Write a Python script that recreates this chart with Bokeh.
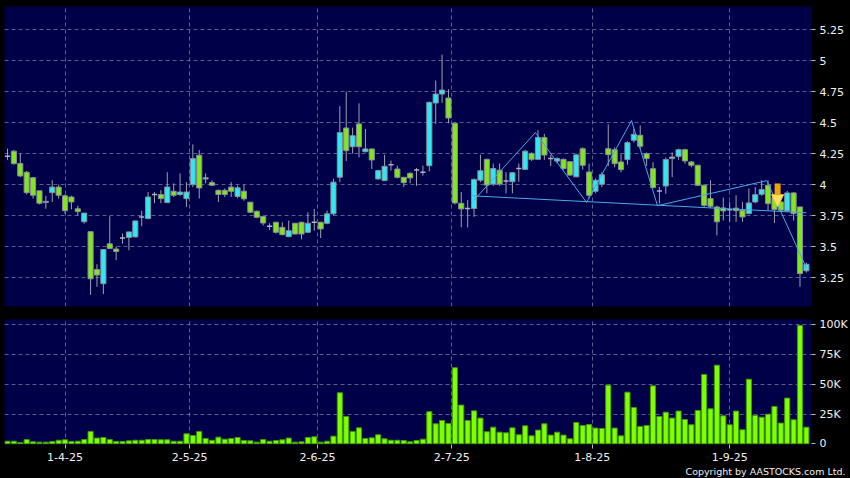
from bokeh.plotting import figure
from bokeh.layouts import column
from bokeh.models import (ColumnDataSource, FixedTicker, Range1d, Arrow,
                          NormalHead, Title)
from bokeh.embed import file_html
from bokeh.resources import INLINE

# ---------------- data ----------------
opens = [
    4.23, 4.27, 4.17, 4.10, 4.056, 3.95, 3.855, 3.935, 3.98, 3.91,
    3.90, 3.805, 3.70, 3.62, 3.315, 3.20, 3.522, 3.48, 3.57, 3.573,
    3.578, 3.739, 3.726, 3.92, 3.92, 3.855, 3.946, 3.92, 3.887, 4.0,
    4.237, 4.045, 4.016, 3.954, 3.954, 3.98, 3.904, 3.947, 3.858, 3.785,
    3.742, 3.664, 3.696, 3.655, 3.58, 3.688, 3.696, 3.615, 3.696, 3.696,
    3.688, 3.764, 4.06, 4.457, 4.306, 4.49, 4.266, 4.288, 4.046, 4.032,
    4.16, 4.126, 4.059, 4.091, 4.118, 4.10, 4.153, 4.659, 4.731, 4.699,
    4.495, 3.849, 3.807, 3.807, 4.036, 4.204, 4.004, 4.117, 4.03, 4.023,
    4.13, 4.123, 4.252, 4.204, 4.381, 4.21, 4.19, 4.204, 4.185, 4.063,
    4.29, 4.102, 3.946, 4.003, 4.29, 4.282, 4.183, 4.202, 4.358, 4.398,
    4.25, 4.129, 3.949, 3.989, 4.21, 4.228, 4.282, 4.183, 4.156, 3.995,
    3.887, 3.82, 3.812, 3.798, 3.81, 3.793, 3.766, 3.86, 3.922, 3.995,
    3.895, 3.86, 3.788, 3.933, 3.82, 3.304,
]
closes = [
    4.23, 4.17, 4.07, 3.935, 3.914, 3.85, 3.865, 3.98, 3.914, 3.79,
    3.86, 3.782, 3.77, 3.24, 3.27, 3.476, 3.484, 3.46, 3.57, 3.618,
    3.707, 3.739, 3.90, 3.92, 3.887, 3.981, 3.914, 3.94, 3.94, 4.21,
    3.973, 4.055, 3.995, 3.92, 3.92, 3.946, 3.974, 3.885, 3.777, 3.736,
    3.69, 3.664, 3.615, 3.596, 3.628, 3.601, 3.601, 3.688, 3.696, 3.642,
    3.764, 4.02, 4.42, 4.274, 4.395, 4.306, 4.288, 4.199, 4.113, 4.148,
    4.16, 4.059, 4.016, 4.054, 4.118, 4.10, 4.664, 4.731, 4.763, 4.538,
    3.852, 3.804, 3.807, 4.042, 4.112, 3.996, 4.13, 4.004, 4.03, 4.096,
    4.13, 4.27, 4.204, 4.381, 4.239, 4.21, 4.21, 4.13, 4.077, 4.24,
    4.156, 3.914, 4.035, 4.08, 4.242, 4.169, 4.121, 4.339, 4.406, 4.309,
    4.21, 3.976, 3.949, 4.202, 4.223, 4.282, 4.191, 4.156, 3.995, 3.833,
    3.825, 3.70, 3.788, 3.798, 3.79, 3.739, 3.852, 3.919, 3.96, 3.847,
    3.80, 3.793, 3.933, 3.766, 3.282, 3.357,
]
highs = [
    4.29, 4.28, 4.25, 4.11, 4.06, 3.95, 3.91, 4.035, 4.0, 3.92,
    3.91, 3.83, 3.772, 3.62, 3.357, 3.48, 3.745, 3.50, 3.605, 3.62,
    3.71, 3.788, 3.94, 3.94, 3.955, 4.10, 4.01, 4.09, 4.02, 4.325,
    4.28, 4.09, 4.035, 3.96, 3.97, 4.02, 3.993, 4.0, 3.86, 3.79,
    3.75, 3.688, 3.70, 3.696, 3.71, 3.69, 3.70, 3.777, 3.804, 3.70,
    3.79, 4.047, 4.634, 4.75, 4.46, 4.656, 4.45, 4.29, 4.12, 4.24,
    4.194, 4.153, 4.06, 4.10, 4.134, 4.153, 4.67, 4.84, 5.05, 4.77,
    4.50, 3.94, 3.875, 4.05, 4.24, 4.21, 4.17, 4.17, 4.10, 4.10,
    4.17, 4.28, 4.26, 4.44, 4.41, 4.24, 4.22, 4.21, 4.19, 4.25,
    4.30, 4.17, 4.05, 4.10, 4.487, 4.30, 4.25, 4.35, 4.45, 4.478,
    4.26, 4.18, 3.98, 4.22, 4.26, 4.29, 4.29, 4.19, 4.16, 4.0,
    4.035, 3.83, 3.895, 3.86, 3.914, 3.86, 3.968, 3.98, 4.035, 4.035,
    3.92, 3.87, 3.95, 3.94, 3.82, 3.37,
]
lows = [
    4.20, 4.16, 4.06, 3.92, 3.887, 3.84, 3.806, 3.86, 3.887, 3.766,
    3.80, 3.75, 3.685, 3.11, 3.175, 3.116, 3.48, 3.39, 3.524, 3.47,
    3.575, 3.664, 3.72, 3.85, 3.85, 3.85, 3.90, 3.91, 3.82, 3.98,
    3.887, 4.01, 3.99, 3.86, 3.90, 3.90, 3.89, 3.87, 3.77, 3.73,
    3.67, 3.634, 3.605, 3.59, 3.575, 3.60, 3.558, 3.61, 3.628, 3.569,
    3.68, 3.75, 4.02, 4.19, 4.25, 4.22, 4.26, 4.126, 4.04, 4.03,
    4.113, 4.05, 3.98, 4.011, 3.99, 4.073, 4.107, 4.49, 4.66, 4.495,
    3.84, 3.656, 3.654, 3.74, 4.02, 3.93, 3.99, 3.99, 3.93, 3.93,
    4.023, 4.12, 4.19, 4.20, 4.20, 4.15, 4.17, 4.12, 4.07, 4.06,
    4.12, 3.89, 3.93, 3.98, 4.15, 4.14, 4.10, 4.16, 4.34, 4.29,
    4.15, 3.97, 3.847, 3.925, 4.06, 4.2, 4.17, 4.14, 3.99, 3.82,
    3.81, 3.59, 3.71, 3.70, 3.70, 3.70, 3.76, 3.85, 3.91, 3.79,
    3.69, 3.78, 3.78, 3.71, 3.175, 3.29,
]
volume_k = [
    2.2, 2.2, 1.1, 3.6, 1.7, 1.4, 1.4, 2.0, 3.0, 3.4,
    2.0, 2.2, 3.6, 10.4, 4.8, 5.3, 3.6, 2.0, 2.0, 2.5,
    3.0, 3.0, 3.6, 3.6, 3.4, 3.4, 2.2, 2.2, 8.4, 7.0,
    10.4, 4.5, 3.0, 5.6, 3.9, 4.5, 5.3, 2.8, 2.5, 1.4,
    3.6, 2.2, 2.8, 3.4, 4.8, 1.4, 1.7, 5.3, 5.9, 1.4,
    2.2, 6.4, 42.9, 23.0, 10.4, 13.4, 4.5, 5.0, 7.6, 4.2,
    3.0, 3.0, 2.8, 1.7, 2.8, 3.9, 27.0,
    16.8, 19.6, 17.1, 63.9, 32.5, 19.6, 27.7, 21.6, 10.1, 14.0,
    9.8, 9.2, 13.4, 7.6, 15.1, 6.7, 11.5, 16.8, 7.3, 9.8,
    7.3, 4.2, 17.9, 15.4, 16.2, 13.2, 12.9, 49.3, 13.2, 6.7,
    43.4, 30.5, 14.6, 15.4, 48.7, 23.0, 26.6, 21.6, 27.5, 20.4,
    16.0, 28.0, 58.3, 29.4, 66.1, 23.5, 16.0, 27.5, 11.8, 54.3,
    23.8, 22.4, 24.9, 31.4, 17.4, 38.4, 20.2, 99.4, 14.0,
]

price_ticks = [3.25, 3.5, 3.75, 4.0, 4.25, 4.5, 4.75, 5.0, 5.25]
price_tick_labels = ["3.25", "3.5", "3.75", "4", "4.25", "4.5", "4.75", "5", "5.25"]
vol_ticks = [0, 25, 50, 75, 100]
vol_tick_labels = ["0", "25K", "50K", "75K", "100K"]
date_ticks = [9, 28.5, 48.5, 69.5, 91.5, 113]
date_tick_labels = ["1-4-25", "2-5-25", "2-6-25", "2-7-25", "1-8-25", "1-9-25"]

# head-and-shoulders style annotation drawn on the chart
pattern_x = [72.9, 82.6, 90.6, 97.65, 101.7, 118.8, 125.0]
pattern_y = [3.87, 4.42, 3.856, 4.517, 3.83, 4.032, 3.328]
neck_x = [72.5, 125.0]
neck_y = [3.91, 3.773]
arrow_x = 120.5
arrow_from = 4.01
arrow_to = 3.822

# ---------------- styling ----------------
NAVY = "#000048"
GREEN = "#80e620"
CYAN = "#30e8f2"
EDGE = "#8c8c96"
WICK = "#a0a0b0"
GRID = "#7a7aa8"
TXT = "#f0f0f0"
FONT = "DejaVu Sans"

n = len(opens)
idx = list(range(n))

body = dict(x=[], top=[], bottom=[], color=[])
doji = dict(x0=[], x1=[], y=[])
for i in idx:
    o, c = opens[i], closes[i]
    if c == o:
        doji["x0"].append(i - 0.4)
        doji["x1"].append(i + 0.4)
        doji["y"].append(o)
    else:
        body["x"].append(i)
        body["top"].append(max(o, c))
        body["bottom"].append(min(o, c))
        body["color"].append(CYAN if c > o else GREEN)

wick_src = ColumnDataSource(dict(x=idx, high=highs, low=lows))
body_src = ColumnDataSource(body)
doji_src = ColumnDataSource(doji)
vol_src = ColumnDataSource(dict(x=idx, v=volume_k))

x_range = Range1d(-0.47, 125.8)


def style_grid(g, ticks):
    g.ticker = FixedTicker(ticks=ticks)
    g.grid_line_color = GRID
    g.grid_line_dash = "4 3"
    g.grid_line_alpha = 0.75
    g.grid_line_width = 1


# ---------------- price panel ----------------
p1 = figure(width=850, height=312, x_range=x_range, y_range=Range1d(3.016, 5.438),
            y_axis_location="right",
            output_backend="svg", toolbar_location=None,
            min_border_left=4, min_border_right=39, min_border_top=6, min_border_bottom=6)
p1.background_fill_color = NAVY
p1.border_fill_color = "#000000"
p1.outline_line_color = None
p1.xaxis.visible = False

p1.yaxis.ticker = FixedTicker(ticks=price_ticks)
p1.yaxis.major_label_overrides = {t: l for t, l in zip(price_ticks, price_tick_labels)}
style_grid(p1.ygrid, price_ticks)
style_grid(p1.xgrid, date_ticks)

p1.segment(x0="x", y0="low", x1="x", y1="high", source=wick_src, line_color=WICK, line_width=1)
p1.vbar(x="x", top="top", bottom="bottom", width=0.8, source=body_src,
        fill_color="color", line_color=EDGE, line_width=1)
p1.segment(x0="x0", y0="y", x1="x1", y1="y", source=doji_src, line_color="#b0b0c8", line_width=1.5)

p1.line(pattern_x, pattern_y, line_color="#4aa8e6", line_width=1)
p1.line(neck_x, neck_y, line_color="#4aa8e6", line_width=1)
p1.add_layout(Arrow(end=NormalHead(size=12, fill_color="#ffe066", line_color="#ffcc33", line_width=1),
                    x_start=arrow_x, y_start=arrow_from, x_end=arrow_x, y_end=arrow_to,
                    line_color="#f2a500", line_width=6))

# ---------------- volume panel ----------------
p2 = figure(width=850, height=166, x_range=x_range, y_range=Range1d(-0.59, 104.45),
            y_axis_location="right", output_backend="svg", toolbar_location=None,
            min_border_left=4, min_border_right=39, min_border_top=7, min_border_bottom=34)
p2.background_fill_color = NAVY
p2.border_fill_color = "#000000"
p2.outline_line_color = None

p2.vbar(x="x", top="v", bottom=0, width=0.8, source=vol_src,
        fill_color="#80ff00", line_color="#3f9a00", line_width=1)

p2.yaxis.ticker = FixedTicker(ticks=vol_ticks)
p2.yaxis.major_label_overrides = {t: l for t, l in zip(vol_ticks, vol_tick_labels)}
style_grid(p2.ygrid, vol_ticks[1:])
p2.xaxis.ticker = FixedTicker(ticks=date_ticks)
p2.xaxis.major_label_overrides = {t: l for t, l in zip(date_ticks, date_tick_labels)}
style_grid(p2.xgrid, date_ticks)

for ax in (p1.yaxis, p2.yaxis, p2.xaxis):
    ax.axis_line_color = None
    ax.major_tick_in = 0
    ax.major_tick_out = 4
    ax.major_tick_line_color = "#b8b8b8"
    ax.minor_tick_line_color = None
    ax.major_label_text_color = TXT
    ax.major_label_text_font = FONT
    ax.major_label_text_font_size = "11px"
    ax.major_label_standoff = 4

p2.add_layout(Title(text="Copyright by AASTOCKS.com Ltd.", align="right",
                    text_color=TXT, text_font=FONT, text_font_size="9.5px",
                    text_font_style="normal", offset=-34, standoff=0), "below")

layout = column(p1, p2, spacing=0)
layout.styles = {"background-color": "#000000"}

open("out.html", "w").write(file_html(layout, INLINE))
